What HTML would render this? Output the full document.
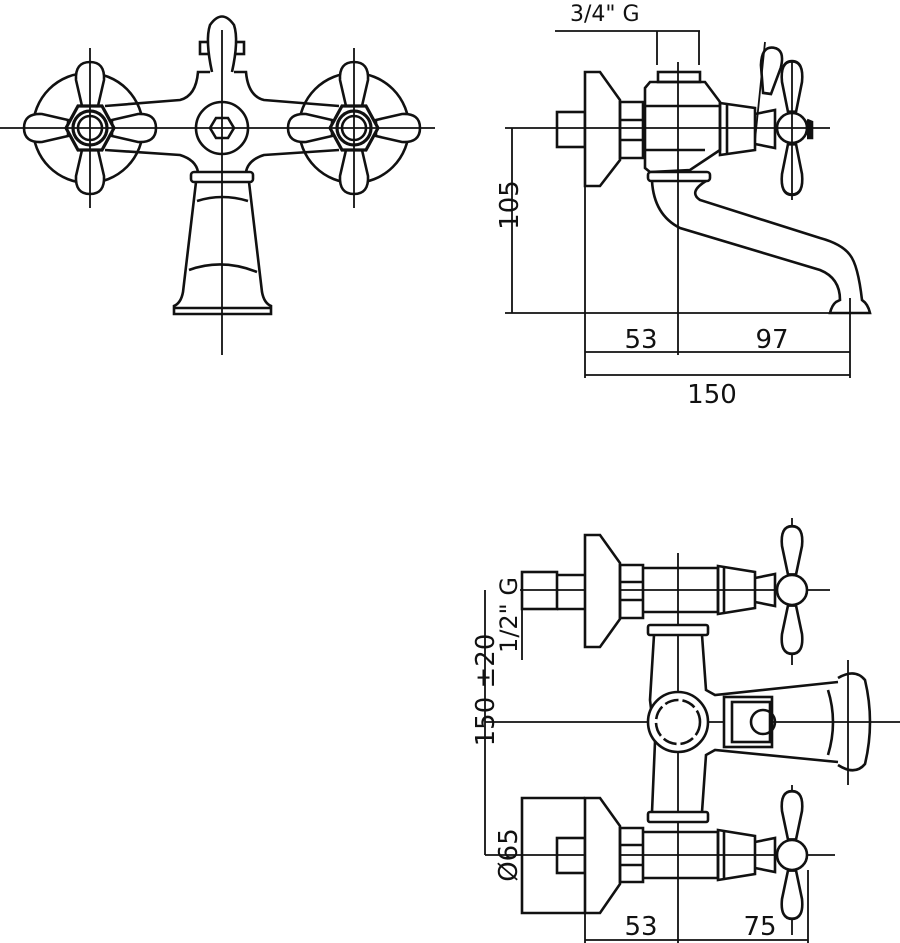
<!DOCTYPE html>
<html><head><style>html,body{margin:0;padding:0;background:#fff}svg{display:block}
text{font-family:"DejaVu Sans","Liberation Sans",sans-serif;fill:#111}</style></head><body>
<svg width="900" height="943" viewBox="0 0 900 943" xmlns="http://www.w3.org/2000/svg">
<defs>
<path id="pet" d="M-8,-22 L-14,-48 Q-15,-66 0,-66 Q15,-66 14,-48 L8,-22 Z" fill="#fff" stroke="#111" stroke-width="2.6"/>
<path id="bl" d="M-4,-14 L-10,-40 Q-12,-58 0,-58 Q12,-58 10,-40 L4,-14 Z" fill="#fff" stroke="#111" stroke-width="2.6"/>
</defs>
<g fill="none" stroke="#111" stroke-width="2.6">
<circle cx="88" cy="128" r="55"/>
<circle cx="354" cy="128" r="55"/>
<path d="M105,106 L180,100 Q196,96 198,72 L210,72 M105,150 L180,155 Q196,160 198,172"/>
<path d="M339,106 L264,100 Q248,96 246,72 L234,72 M339,150 L264,155 Q248,160 246,172"/>
<rect x="200" y="42" width="10" height="12"/><rect x="234" y="42" width="10" height="12"/>
<path d="M212,72 Q205,40 210,25 Q222,8 234,25 Q239,40 232,72" fill="#fff"/>
<circle cx="222" cy="128" r="26" fill="#fff"/>
<polygon points="210,128 216,118 228,118 234,128 228,138 216,138"/>
<g transform="translate(90,128)"><use href="#pet"/><use href="#pet" transform="rotate(90)"/><use href="#pet" transform="rotate(180)"/><use href="#pet" transform="rotate(270)"/>
<polygon points="-24,0 -12,-22 12,-22 24,0 12,22 -12,22" fill="#fff" stroke-width="3.2"/><circle r="17" stroke-width="3.2"/><circle r="12"/></g>
<g transform="translate(354,128)"><use href="#pet"/><use href="#pet" transform="rotate(90)"/><use href="#pet" transform="rotate(180)"/><use href="#pet" transform="rotate(270)"/>
<polygon points="-24,0 -12,-22 12,-22 24,0 12,22 -12,22" fill="#fff" stroke-width="3.2"/><circle r="17" stroke-width="3.2"/><circle r="12"/></g>
<rect x="191" y="172" width="62" height="10" rx="3" fill="#fff"/>
<path d="M196,182 L183,292 Q181,303 174,306 L174,314 L271,314 L271,306 Q264,303 262,292 L249,182"/>
<line x1="174" y1="308" x2="271" y2="308"/>
<path d="M197,201 Q222,193 248,201 M189,270 Q222,258 257,272"/>
<rect x="557" y="112" width="28" height="35"/>
<path d="M585,72 L600,72 L620,100 L620,160 L600,186 L585,186 Z" fill="#fff"/>
<path d="M620,102 L643,102 L643,158 L620,158 Z M620,120 L643,120 M620,140 L643,140"/>
<path d="M645,88 L650,82 L705,82 L720,102 L720,150 L705,160 L690,170 L650,172 L645,168 Z" fill="#fff"/>
<rect x="658" y="72" width="42" height="10"/>
<path d="M645,106 L720,106 M645,150 L705,150"/>
<path d="M720,103 L755,108 L755,150 L720,155 Z M727,103 L727,155"/>
<path d="M755,114 L775,110 L775,148 L755,144"/>
<g transform="translate(765,108) rotate(8)"><use href="#bl" transform="scale(1,1.05)"/></g>
<g transform="translate(792,128)"><use href="#bl" transform="scale(1,1.15)"/><use href="#bl" transform="rotate(180) scale(1,1.15)"/>
<path d="M15,-8 L20,-6 L20,10 L15,10" fill="#111"/><circle r="15" fill="#fff"/></g>
<rect x="648" y="172" width="62" height="9" rx="3" fill="#fff"/>
<path d="M652,181 Q654,215 680,228 L820,270 Q840,278 840,300 L836,302 Q832,305 830,313 L870,313 Q868,304 862,300 Q858,265 850,255 Q842,244 820,238 L700,200 Q688,192 706,181"/>
<g stroke-width="1.8">
<line x1="0" y1="128" x2="435" y2="128"/><line x1="222" y1="30" x2="222" y2="355"/>
<line x1="90" y1="48" x2="90" y2="208"/><line x1="354" y1="48" x2="354" y2="208"/>
<line x1="505" y1="128" x2="830" y2="128"/><line x1="678" y1="62" x2="678" y2="355"/>
<line x1="555" y1="31" x2="700" y2="31"/><line x1="657" y1="31" x2="657" y2="65"/><line x1="699" y1="31" x2="699" y2="65"/>
<line x1="512" y1="128" x2="512" y2="313"/><line x1="505" y1="313" x2="850" y2="313"/>
<line x1="585" y1="186" x2="585" y2="378"/><line x1="850" y1="298" x2="850" y2="378"/>
<line x1="585" y1="352" x2="850" y2="352"/><line x1="585" y1="375" x2="850" y2="375"/>
<line x1="765" y1="42" x2="755" y2="140"/><line x1="792" y1="60" x2="792" y2="200"/>
<line x1="678" y1="553" x2="678" y2="943"/>
<line x1="520" y1="590" x2="830" y2="590"/><line x1="485" y1="722" x2="900" y2="722"/><line x1="485" y1="855" x2="835" y2="855"/>
<line x1="485" y1="590" x2="485" y2="855"/>
<line x1="522" y1="572" x2="522" y2="660"/><line x1="522" y1="798" x2="522" y2="913"/>
<line x1="585" y1="870" x2="585" y2="943"/><line x1="808" y1="870" x2="808" y2="943"/>
<line x1="585" y1="940" x2="808" y2="940"/>
<line x1="792" y1="518" x2="792" y2="665"/><line x1="792" y1="785" x2="792" y2="935"/><line x1="848" y1="660" x2="848" y2="785"/>
</g>
<rect x="522" y="572" width="35" height="37"/>
<path d="M557,575 L585,575 M557,609 L585,609" />
<path d="M585,535 L600,535 L620,563 L620,619 L600,647 L585,647 Z" fill="#fff"/>
<path d="M620,565 L643,565 L643,618 L620,618 Z M620,582 L643,582 M620,600 L643,600"/>
<path d="M643,568 L718,568 L718,612 L643,612"/>
<path d="M718,566 L755,572 L755,608 L718,614 Z M724,566 L724,614"/>
<path d="M755,578 L775,574 L775,606 L755,602"/>
<g transform="translate(792,590)"><use href="#bl" transform="scale(1,1.1)"/><use href="#bl" transform="rotate(180) scale(1,1.1)"/><circle r="15" fill="#fff"/></g>
<rect x="648" y="625" width="60" height="10" rx="2" fill="#fff"/>
<rect x="648" y="812" width="60" height="10" rx="2" fill="#fff"/>
<path d="M654,635 L650,700 L655,742 L652,812 M702,635 L706,690 L715,695 L838,682 M702,812 L706,755 L715,750 L838,762"/>
<circle cx="678" cy="722" r="30" fill="#fff"/><circle cx="678" cy="722" r="22" stroke-dasharray="14 4"/>
<rect x="724" y="697" width="48" height="50" fill="#fff"/><rect x="732" y="702" width="38" height="40"/>
<circle cx="763" cy="722" r="12"/>
<path d="M838,678 Q855,668 865,680 Q875,722 865,764 Q855,776 838,765 M828,690 Q838,722 828,755"/>
<path d="M585,798 L522,798 L522,913 L585,913"/>
<rect x="557" y="838" width="28" height="35"/>
<path d="M585,798 L600,798 L620,826 L620,884 L600,913 L585,913 Z" fill="#fff"/>
<path d="M620,828 L643,828 L643,882 L620,882 Z M620,845 L643,845 M620,865 L643,865"/>
<path d="M643,832 L718,832 L718,878 L643,878"/>
<path d="M718,830 L755,836 L755,874 L718,880 Z M724,830 L724,880"/>
<path d="M755,842 L775,838 L775,872 L755,868"/>
<g transform="translate(792,855)"><use href="#bl" transform="scale(1,1.1)"/><use href="#bl" transform="rotate(180) scale(1,1.1)"/><circle r="15" fill="#fff"/></g>
</g>
<g font-size="26">
<text x="570" y="21" font-size="22">3/4" G</text>
<text transform="translate(518,205) rotate(-90)" text-anchor="middle">105</text>
<text x="641" y="348" text-anchor="middle">53</text>
<text x="772" y="348" text-anchor="middle">97</text>
<text x="712" y="403" text-anchor="middle">150</text>
<text transform="translate(494,690) rotate(-90)" text-anchor="middle">150 ±20</text>
<text transform="translate(517,615) rotate(-90)" text-anchor="middle" font-size="24">1/2" G</text>
<text transform="translate(517,855) rotate(-90)" text-anchor="middle">Ø65</text>
<text x="641" y="935" text-anchor="middle">53</text>
<text x="760" y="935" text-anchor="middle">75</text>
</g>
</svg>
</body></html>
